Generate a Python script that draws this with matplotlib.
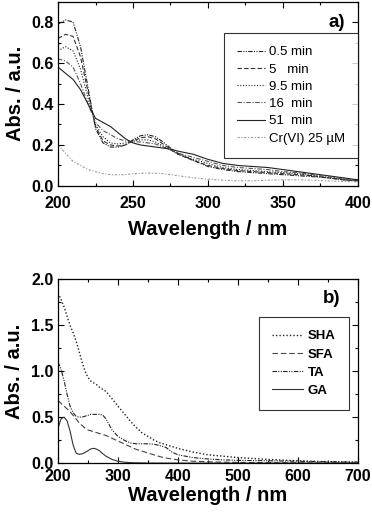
import matplotlib
matplotlib.use("Agg")
import matplotlib.pyplot as plt
from matplotlib.ticker import MultipleLocator

plt.rcParams['font.family'] = ['Liberation Sans', 'DejaVu Sans']

# ---- panel a) : spectra vs time ----
wl_a = [200, 205, 210, 215, 220, 225, 230, 235, 240, 245, 250, 255, 260, 265, 270,
        275, 280, 290, 300, 310, 320, 330, 340, 350, 360, 370, 380, 390, 400]
a_05 = [0.79, 0.81, 0.80, 0.68, 0.48, 0.28, 0.21, 0.19, 0.19, 0.20, 0.225, 0.245, 0.25, 0.24, 0.215,
        0.185, 0.16, 0.125, 0.095, 0.08, 0.07, 0.065, 0.06, 0.055, 0.05, 0.045, 0.04, 0.03, 0.025]
a_5 = [0.72, 0.74, 0.73, 0.63, 0.46, 0.29, 0.22, 0.20, 0.195, 0.20, 0.22, 0.235, 0.24, 0.23, 0.205,
       0.18, 0.155, 0.125, 0.10, 0.085, 0.075, 0.07, 0.065, 0.06, 0.055, 0.05, 0.04, 0.03, 0.025]
a_95 = [0.66, 0.68, 0.66, 0.57, 0.43, 0.30, 0.24, 0.21, 0.205, 0.21, 0.22, 0.225, 0.225, 0.215, 0.195,
        0.175, 0.155, 0.13, 0.11, 0.09, 0.08, 0.075, 0.07, 0.065, 0.06, 0.05, 0.04, 0.035, 0.025]
a_16 = [0.62, 0.61, 0.58, 0.50, 0.40, 0.31, 0.27, 0.25, 0.23, 0.22, 0.215, 0.215, 0.21, 0.205, 0.19,
        0.175, 0.16, 0.14, 0.12, 0.10, 0.09, 0.085, 0.08, 0.07, 0.065, 0.055, 0.045, 0.035, 0.03]
a_51 = [0.58, 0.55, 0.52, 0.47, 0.40, 0.33, 0.31, 0.29, 0.26, 0.23, 0.21, 0.20, 0.195, 0.19, 0.185,
        0.18, 0.17, 0.155, 0.13, 0.11, 0.10, 0.095, 0.09, 0.08, 0.07, 0.06, 0.05, 0.04, 0.03]
a_cr = [0.20, 0.16, 0.12, 0.10, 0.08, 0.07, 0.06, 0.055, 0.055, 0.055, 0.06, 0.062, 0.063, 0.062, 0.06,
        0.055, 0.05, 0.04, 0.033, 0.028, 0.025, 0.025, 0.028, 0.03, 0.03, 0.028, 0.025, 0.022, 0.02]
labels_a = ['0.5 min', '5   min', '9.5 min', '16  min', '51  min', 'Cr(VI) 25 µM']

# ---- panel b) : humic substances ----
wl_b = [200, 205, 210, 215, 220, 225, 230, 235, 240, 245, 250, 255, 260, 265, 270, 275, 280,
        290, 300, 310, 320, 330, 340, 350, 360, 370, 380, 390, 400, 425, 450, 475, 500,
        550, 600, 650, 700]
sha = [1.85, 1.78, 1.70, 1.60, 1.50, 1.42, 1.33, 1.22, 1.10, 1.00, 0.93, 0.89, 0.87, 0.85, 0.82, 0.80, 0.78,
       0.70, 0.62, 0.54, 0.46, 0.39, 0.33, 0.29, 0.25, 0.22, 0.20, 0.18, 0.16, 0.12, 0.09, 0.075, 0.06,
       0.04, 0.025, 0.015, 0.01]
sfa = [0.68, 0.65, 0.62, 0.59, 0.56, 0.52, 0.48, 0.44, 0.41, 0.38, 0.36, 0.35, 0.34, 0.33, 0.32, 0.31, 0.30,
       0.27, 0.24, 0.21, 0.18, 0.15, 0.13, 0.11, 0.09, 0.07, 0.055, 0.045, 0.035, 0.02, 0.015, 0.01, 0.008,
       0.005, 0.003, 0.002, 0.0]
ta = [1.10, 1.02, 0.90, 0.75, 0.62, 0.55, 0.51, 0.50, 0.50, 0.51, 0.52, 0.53, 0.53, 0.53, 0.53, 0.52, 0.48,
      0.36, 0.29, 0.25, 0.22, 0.21, 0.21, 0.21, 0.205, 0.19, 0.17, 0.12, 0.09, 0.06, 0.045, 0.035, 0.03,
      0.025, 0.02, 0.015, 0.01]
ga = [0.38, 0.48, 0.50, 0.46, 0.35, 0.20, 0.11, 0.095, 0.10, 0.115, 0.135, 0.155, 0.16, 0.15, 0.13, 0.10, 0.075,
      0.04, 0.02, 0.01, 0.005, 0.003, 0.002, 0.0, 0.0, 0.0, 0.0, 0.0, 0.0, 0.0, 0.0, 0.0, 0.0,
      0.0, 0.0, 0.0, 0.0]
labels_b = ['SHA', 'SFA', 'TA', 'GA']

fig = plt.figure(figsize=(3.72, 5.18), dpi=100)
ax1 = fig.add_axes([0.156, 0.641, 0.806, 0.356])
ax2 = fig.add_axes([0.156, 0.106, 0.806, 0.355])

lw = 0.8
dk = '#222222'
ax1.plot(wl_a, a_05, color=dk, lw=lw, ls=(0, (4, 1.2, 1, 1.2, 1, 1.2)), label=labels_a[0])
ax1.plot(wl_a, a_5, color='#333333', lw=lw, ls=(0, (4, 2)), label=labels_a[1])
ax1.plot(wl_a, a_95, color=dk, lw=lw, ls=(0, (1, 1.5)), label=labels_a[2])
ax1.plot(wl_a, a_16, color='#555555', lw=lw, ls=(0, (4, 1.5, 1, 1.5)), label=labels_a[3])
ax1.plot(wl_a, a_51, color=dk, lw=lw, ls='-', label=labels_a[4])
ax1.plot(wl_a, a_cr, color='#999999', lw=lw, ls=(0, (2, 1.5, 1, 1.5)), label=labels_a[5])

ax2.plot(wl_b, sha, color=dk, lw=1.0, ls=(0, (1, 1.5)), label=labels_b[0])
ax2.plot(wl_b, sfa, color='#444444', lw=lw, ls=(0, (5, 2.5)), label=labels_b[1])
ax2.plot(wl_b, ta, color=dk, lw=lw, ls=(0, (4, 1.2, 1, 1.2, 1, 1.2)), label=labels_b[2])
ax2.plot(wl_b, ga, color='#333333', lw=lw, ls='-', label=labels_b[3])

ax1.set_xlim(200, 400)
ax1.set_ylim(0, 0.9)
ax1.xaxis.set_major_locator(MultipleLocator(50))
ax1.xaxis.set_minor_locator(MultipleLocator(25))
ax1.yaxis.set_minor_locator(MultipleLocator(0.1))
ax1.set_yticks([0.0, 0.2, 0.4, 0.6, 0.8])
ax1.set_yticklabels(['0.0', '0.2', '0.4', '0.6', '0.8'])

ax2.set_xlim(200, 700)
ax2.set_ylim(0, 2.0)
ax2.xaxis.set_major_locator(MultipleLocator(100))
ax2.xaxis.set_minor_locator(MultipleLocator(50))
ax2.yaxis.set_minor_locator(MultipleLocator(0.25))
ax2.set_yticks([0.0, 0.5, 1.0, 1.5, 2.0])
ax2.set_yticklabels(['0.0', '0.5', '1.0', '1.5', '2.0'])

for ax in (ax1, ax2):
    ax.tick_params(which='both', direction='in', top=True, right=True, width=0.8)
    ax.tick_params(which='major', length=4, labelsize=11.5, pad=3)
    ax.tick_params(which='minor', length=2)
    for lab in ax.get_xticklabels() + ax.get_yticklabels():
        lab.set_fontweight('bold')
    for sp in ax.spines.values():
        sp.set_linewidth(0.9)
    ax.set_ylabel('Abs. / a.u.', fontsize=14.5, fontweight='bold', labelpad=5)

ax1.tick_params(axis='x', which='major', pad=7)
ax1.set_xlabel('Wavelength / nm', fontsize=14.5, fontweight='bold', labelpad=7)
ax2.tick_params(axis='x', which='major', pad=4)
ax2.set_xlabel('Wavelength / nm', fontsize=14.5, fontweight='bold', labelpad=2)

ax1.text(0.957, 0.889, 'a)', transform=ax1.transAxes, ha='right', va='center',
         fontsize=13.5, fontweight='bold')
ax2.text(0.94, 0.897, 'b)', transform=ax2.transAxes, ha='right', va='center',
         fontsize=13.5, fontweight='bold')

leg1 = ax1.legend(loc='upper right', bbox_to_anchor=(1.0, 0.83), fontsize=9.5,
                  frameon=True, fancybox=False, edgecolor='black', handlelength=2.1,
                  handletextpad=0.3, labelspacing=0.38, borderpad=1.0, borderaxespad=0)
leg1.get_frame().set_linewidth(0.8)
leg2 = ax2.legend(loc='upper right', bbox_to_anchor=(0.97, 0.795),
                  prop={'size': 9.5, 'weight': 'bold'},
                  frameon=True, fancybox=False, edgecolor='black', handlelength=2.3,
                  handletextpad=0.4, labelspacing=0.45, borderpad=1.0, borderaxespad=0)
leg2.get_frame().set_linewidth(0.8)

fig.savefig('out.png', dpi=100)
